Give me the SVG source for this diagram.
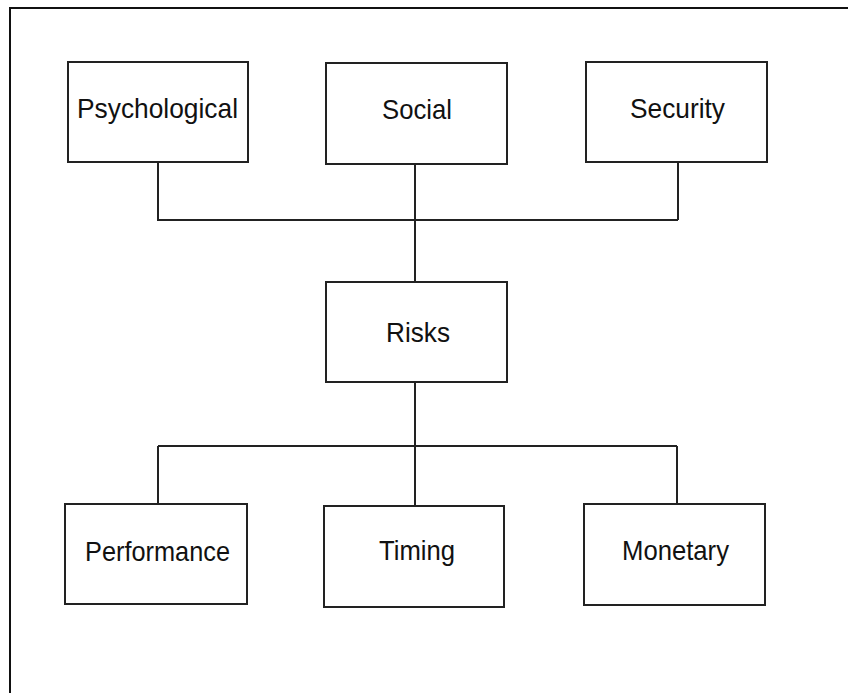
<svg xmlns="http://www.w3.org/2000/svg" width="848" height="693" viewBox="0 0 848 693">
<style>
.box{fill:#fff;stroke:#222;stroke-width:2}
.lbl{font-family:"Liberation Sans",Arial,sans-serif;font-size:28px;fill:#111}
.con{fill:none;stroke:#222;stroke-width:2}
</style>
<rect x="0" y="0" width="848" height="693" fill="#fff"/>
<path d="M10,693 V8 H848" fill="none" stroke="#111" stroke-width="2"/>
<g id="connectors">
<path class="con" d="M158,162 V220 H678 M678,162 V220 M415,164 V282"/>
<path class="con" d="M415,382 V446 M158,446 H677 M158,446 V504 M415,446 V506 M677,446 V504"/>
</g>
<g id="psychological"><rect class="box" x="68" y="62" width="180" height="100"/><text class="lbl" x="77" y="118" textLength="161" lengthAdjust="spacingAndGlyphs">Psychological</text></g>
<g id="social"><rect class="box" x="326" y="63" width="181" height="101"/><text class="lbl" x="382" y="119" textLength="70" lengthAdjust="spacingAndGlyphs">Social</text></g>
<g id="security"><rect class="box" x="586" y="62" width="181" height="100"/><text class="lbl" x="630" y="118" textLength="95" lengthAdjust="spacingAndGlyphs">Security</text></g>
<g id="risks"><rect class="box" x="326" y="282" width="181" height="100"/><text class="lbl" x="386" y="342" textLength="64" lengthAdjust="spacingAndGlyphs">Risks</text></g>
<g id="performance"><rect class="box" x="65" y="504" width="182" height="100"/><text class="lbl" x="85" y="561" textLength="145" lengthAdjust="spacingAndGlyphs">Performance</text></g>
<g id="timing"><rect class="box" x="324" y="506" width="180" height="101"/><text class="lbl" x="379" y="560" textLength="76" lengthAdjust="spacingAndGlyphs">Timing</text></g>
<g id="monetary"><rect class="box" x="584" y="504" width="181" height="101"/><text class="lbl" x="622" y="560" textLength="107" lengthAdjust="spacingAndGlyphs">Monetary</text></g>
</svg>
